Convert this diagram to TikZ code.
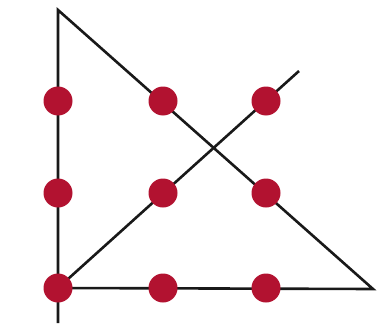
\documentclass[tikz,border=0pt]{standalone}
\begin{document}
\begin{tikzpicture}[x=1pt,y=-1pt,
  dot/.style={circle,fill=dotred,inner sep=0pt,minimum size=29pt},
  stroke/.style={draw=black!90,line width=2.6pt,line join=miter}]
\definecolor{dotred}{RGB}{178,18,48}
\useasboundingbox (0,0) rectangle (388,324);
\coordinate (bot) at (58,323);
\coordinate (top) at (58,10);
\coordinate (corner) at (373,289);
\coordinate (end) at (299,71);
\coordinate (bl) at (58,288);
\draw[stroke] (bot) -- (top) -- (corner) -- (bl) -- (end);
\foreach \c/\x in {a/58,b/163,c/266}{
  \node[dot] (\c1) at (\x,101) {};
  \node[dot] (\c2) at (\x,193) {};
  \node[dot] (\c3) at (\x,288) {};
}
\end{tikzpicture}
\end{document}
